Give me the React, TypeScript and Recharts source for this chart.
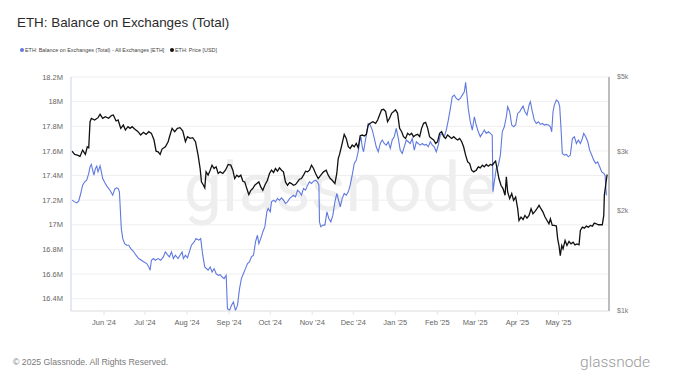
import { LineChart, Line, XAxis, YAxis, CartesianGrid } from 'recharts';

const TITLE = 'ETH: Balance on Exchanges (Total)';
const BALANCE_NAME = 'ETH: Balance on Exchanges (Total) - All Exchanges [ETH]';
const PRICE_NAME = 'ETH: Price [USD]';

const BLUE = '#6079e0';
const BLACK = '#111111';
const FONT = '"Liberation Sans", Arial, sans-serif';

// x = days since the start of the window (early May 2024)
const monthTicks = [22.7, 50.9, 79.8, 108.7, 137.0, 165.9, 194.1, 223.0, 251.9, 278.0, 307.0, 335.2];
const monthLabels = ["Jun '24", "Jul '24", "Aug '24", "Sep '24", "Oct '24", "Nov '24", "Dec '24", "Jan '25", "Feb '25", "Mar '25", "Apr '25", "May '25"];
const balanceTicks = [16.4, 16.6, 16.8, 17, 17.2, 17.4, 17.6, 17.8, 18, 18.2];
const priceTicks = [1000, 2000, 3000, 5000];

// exchange balance, millions of ETH
const balanceDays = [
  0.7, 2.5, 3.9, 5.3, 6.7, 8.0, 9.4, 10.8, 12.2, 13.1, 14.0, 14.9, 15.8, 16.8, 17.7, 18.6, 20.0, 20.9, 21.8, 23.2,
  25.0, 26.8, 28.7, 30.1, 31.4, 32.4, 33.3, 34.6, 35.6, 36.9, 38.3, 39.7, 41.1, 42.9, 44.7, 46.6, 48.4, 50.2, 52.1, 53.5,
  54.4, 55.3, 56.7, 58.0, 59.9, 61.7, 63.5, 64.9, 66.3, 67.7, 69.1, 70.4, 71.8, 73.6, 75.0, 76.4, 77.3, 78.7, 80.1, 81.4,
  82.8, 84.7, 86.0, 87.9, 89.2, 90.6, 92.0, 94.3, 95.7, 97.0, 98.4, 99.8, 101.2, 102.6, 103.9, 105.3, 106.7, 107.6, 109.0, 110.4,
  111.7, 113.1, 114.5, 115.9, 117.2, 118.6, 120.0, 121.4, 122.7, 124.1, 125.5, 126.9, 128.2, 129.2, 130.5, 131.9, 133.3, 134.7, 135.6, 137.0,
  137.9, 139.3, 140.6, 142.0, 143.4, 144.8, 146.1, 147.5, 148.9, 150.3, 151.6, 153.0, 154.4, 155.8, 157.1, 158.5, 159.9, 161.3, 162.7, 164.0,
  165.4, 166.8, 168.2, 169.5, 170.5, 170.9, 171.8, 173.2, 174.6, 176.0, 177.3, 178.7, 180.1, 181.5, 182.8, 185.2, 186.5, 187.9, 189.3, 190.7,
  192.0, 193.4, 194.8, 196.2, 197.5, 198.5, 199.4, 200.3, 201.2, 202.1, 203.1, 204.4, 205.8, 207.2, 208.6, 209.9, 211.3, 212.7, 214.1, 215.4,
  216.8, 218.2, 219.6, 220.9, 222.3, 223.7, 225.1, 226.4, 227.8, 229.2, 230.6, 232.0, 233.3, 234.7, 236.1, 237.5, 238.8, 240.2, 241.6, 243.0,
  244.3, 245.7, 247.1, 248.5, 249.8, 251.2, 252.6, 254.0, 255.4, 256.7, 258.1, 259.5, 260.9, 262.2, 263.6, 265.0, 266.4, 267.7, 269.1, 270.5,
  271.4, 272.3, 273.2, 274.6, 276.0, 277.4, 278.7, 280.1, 281.5, 282.9, 284.2, 285.6, 287.0, 288.4, 289.7, 290.2, 291.1, 292.5, 293.9, 295.3,
  296.6, 298.0, 299.4, 300.3, 301.7, 303.1, 304.4, 305.8, 307.2, 308.6, 309.9, 310.9, 312.2, 313.6, 315.0, 315.9, 317.3, 318.6, 320.0, 321.4,
  322.8, 324.2, 325.5, 326.9, 328.3, 329.7, 330.6, 331.5, 332.4, 333.8, 335.2, 336.1, 337.0, 337.9, 339.3, 340.7, 342.0, 343.4, 344.8, 346.2,
  347.6, 348.9, 350.3, 351.7, 352.6, 354.0, 355.4, 356.7, 358.1, 359.5, 360.9, 362.2, 363.6, 365.0, 366.4, 367.3, 368.2,
];
const balanceValues = [
  17.200, 17.186, 17.178, 17.192, 17.254, 17.322, 17.349, 17.362, 17.417, 17.471, 17.490, 17.444, 17.403, 17.457, 17.476, 17.430, 17.479, 17.430, 17.376, 17.343,
  17.308, 17.281, 17.240, 17.289, 17.300, 17.295, 17.268, 16.969, 16.888, 16.847, 16.834, 16.834, 16.807, 16.785, 16.753, 16.726, 16.712, 16.698, 16.685, 16.658,
  16.631, 16.712, 16.726, 16.712, 16.726, 16.712, 16.739, 16.780, 16.758, 16.739, 16.780, 16.726, 16.753, 16.726, 16.753, 16.780, 16.726, 16.753, 16.731, 16.780,
  16.834, 16.861, 16.888, 16.875, 16.888, 16.753, 16.658, 16.631, 16.658, 16.617, 16.644, 16.604, 16.590, 16.595, 16.576, 16.563, 16.590, 16.319, 16.305, 16.346,
  16.373, 16.305, 16.346, 16.482, 16.563, 16.604, 16.644, 16.685, 16.698, 16.739, 16.753, 16.861, 16.915, 16.847, 16.888, 16.942, 16.983, 17.105, 17.132, 17.105,
  17.186, 17.200, 17.186, 17.213, 17.200, 17.219, 17.200, 17.173, 17.186, 17.213, 17.227, 17.240, 17.227, 17.281, 17.268, 17.240, 17.295, 17.281, 17.322, 17.349,
  17.335, 17.354, 17.362, 17.349, 17.322, 17.024, 16.983, 16.997, 16.997, 17.105, 17.051, 17.024, 17.078, 17.186, 17.254, 17.146, 17.213, 17.254, 17.240, 17.268,
  17.322, 17.403, 17.498, 17.525, 17.593, 17.674, 17.715, 17.633, 17.593, 17.660, 17.728, 17.823, 17.810, 17.769, 17.701, 17.633, 17.593, 17.660, 17.688, 17.660,
  17.647, 17.674, 17.620, 17.688, 17.715, 17.782, 17.701, 17.606, 17.579, 17.633, 17.688, 17.674, 17.660, 17.701, 17.606, 17.674, 17.660, 17.647, 17.660, 17.647,
  17.652, 17.633, 17.674, 17.647, 17.633, 17.593, 17.647, 17.728, 17.742, 17.715, 17.769, 17.850, 17.945, 18.040, 18.053, 18.026, 18.013, 18.026, 18.053, 18.080,
  18.156, 18.053, 17.945, 17.837, 17.769, 17.877, 17.810, 17.755, 17.715, 17.742, 17.769, 17.742, 17.755, 17.742, 17.728, 17.268, 17.349, 17.457, 17.484, 17.566,
  17.755, 17.796, 17.877, 17.959, 17.918, 17.810, 17.796, 17.810, 17.904, 17.918, 17.945, 17.964, 17.918, 17.891, 17.972, 17.999, 17.918, 17.850, 17.823, 17.837,
  17.815, 17.823, 17.810, 17.815, 17.810, 17.796, 17.755, 17.918, 17.972, 18.013, 17.999, 17.959, 17.782, 17.579, 17.566, 17.571, 17.552, 17.566, 17.701, 17.715,
  17.660, 17.688, 17.660, 17.701, 17.742, 17.715, 17.674, 17.606, 17.566, 17.525, 17.498, 17.511, 17.471, 17.430, 17.417, 17.403, 17.240,
];

// ETH price, USD
const priceDays = [
  0.7, 2.5, 4.4, 6.2, 8.0, 9.9, 11.2, 12.2, 13.1, 14.0, 16.3, 18.6, 20.0, 21.8, 23.6, 25.9, 27.8, 29.1, 31.0, 32.4,
  34.2, 36.0, 37.4, 39.2, 40.6, 42.0, 43.8, 46.1, 47.9, 49.8, 51.6, 53.5, 55.3, 57.1, 58.5, 59.9, 61.3, 62.6, 64.9, 66.8,
  68.1, 69.5, 71.3, 73.2, 75.0, 76.9, 78.7, 80.1, 81.9, 83.7, 85.6, 87.4, 88.8, 89.7, 91.1, 92.0, 92.9, 94.3, 95.7, 97.0,
  98.4, 99.8, 101.2, 102.6, 104.4, 106.2, 108.1, 109.9, 111.3, 112.6, 114.0, 115.4, 116.8, 118.2, 119.5, 120.9, 122.3, 123.7, 125.0, 126.4,
  127.8, 129.2, 130.5, 131.9, 133.3, 135.1, 136.5, 137.9, 139.3, 140.6, 142.0, 143.4, 144.8, 146.1, 147.5, 148.9, 150.3, 151.6, 153.0, 154.4,
  155.8, 157.1, 158.5, 159.9, 161.3, 162.7, 164.0, 165.4, 166.8, 168.2, 170.0, 171.8, 173.7, 175.5, 176.9, 178.3, 179.6, 181.5, 182.8, 183.8,
  184.7, 186.5, 187.9, 189.3, 190.7, 192.0, 193.4, 194.8, 196.2, 197.5, 198.9, 200.3, 201.7, 203.1, 204.4, 205.8, 207.6, 209.5, 210.9, 212.2,
  213.6, 215.0, 216.4, 217.7, 219.1, 220.5, 221.9, 223.2, 224.6, 226.0, 227.4, 228.7, 230.1, 231.5, 232.9, 234.2, 235.6, 237.0, 238.4, 239.8,
  241.1, 242.5, 243.9, 245.3, 246.6, 248.0, 249.4, 250.8, 252.1, 253.5, 254.9, 256.3, 257.6, 259.0, 260.4, 261.8, 263.2, 264.5, 265.9, 267.3,
  268.7, 270.0, 271.4, 272.8, 274.2, 275.5, 276.9, 278.7, 280.1, 281.5, 282.9, 284.2, 285.6, 287.0, 288.4, 289.7, 291.1, 292.0, 293.0, 294.3,
  295.7, 297.1, 298.5, 299.4, 300.3, 301.7, 303.1, 304.4, 305.8, 307.2, 308.1, 309.5, 310.9, 312.2, 313.6, 315.0, 316.4, 317.7, 319.1, 320.5,
  321.9, 323.2, 324.6, 326.0, 327.4, 328.7, 329.7, 331.0, 332.4, 333.8, 334.7, 335.6, 336.5, 337.5, 338.4, 339.8, 341.1, 342.5, 343.9, 345.3,
  346.6, 348.0, 349.4, 350.3, 351.7, 353.1, 354.4, 355.8, 357.2, 358.6, 359.9, 361.3, 362.7, 364.1, 365.4, 366.4, 366.8, 367.7, 368.7,
];
const priceValues = [
  3003, 2936, 2922, 2895, 3025, 2936, 3095, 3074, 3678, 3763, 3720, 3780, 3869, 3763, 3807, 3763, 3834, 3851, 3695, 3720,
  3512, 3594, 3472, 3553, 3512, 3553, 3496, 3433, 3355, 3417, 3370, 3433, 3394, 3241, 3003, 2990, 2936, 3046, 3095, 3204,
  3355, 3512, 3433, 3512, 3529, 3449, 3204, 3316, 3278, 3293, 3204, 2922, 2665, 2430, 2375, 2332, 2604, 2545, 2634, 2727,
  2665, 2696, 2575, 2604, 2575, 2634, 2740, 2727, 2634, 2487, 2545, 2516, 2545, 2441, 2430, 2321, 2227, 2294, 2321, 2375,
  2402, 2430, 2348, 2294, 2375, 2458, 2575, 2634, 2592, 2665, 2616, 2677, 2634, 2604, 2430, 2375, 2419, 2402, 2375, 2386,
  2430, 2475, 2487, 2545, 2616, 2604, 2634, 2727, 2665, 2575, 2487, 2545, 2604, 2634, 2545, 2487, 2458, 2402, 2575, 2855,
  2936, 3167, 3370, 3278, 3095, 3060, 3131, 3095, 3167, 3074, 3340, 3355, 3332, 3370, 3594, 3636, 3678, 3636, 3720, 3851,
  3988, 4004, 3941, 3678, 3763, 3895, 3941, 3988, 3895, 3512, 3433, 3316, 3278, 3394, 3355, 3394, 3316, 3355, 3370, 3316,
  3512, 3636, 3661, 3512, 3316, 3278, 3241, 3167, 3204, 3394, 3433, 3316, 3278, 3355, 3316, 3278, 3316, 3278, 3241, 3278,
  3204, 3095, 2922, 2790, 2758, 2634, 2604, 2634, 2696, 2677, 2727, 2696, 2740, 2708, 2740, 2727, 2777, 2803, 2665, 2487,
  2375, 2321, 2216, 2516, 2268, 2166, 2242, 2141, 2191, 2021, 1864, 1908, 1877, 1930, 1895, 1930, 2021, 1952, 1984, 2021,
  2068, 2021, 1975, 1908, 1864, 1822, 1886, 1801, 1801, 1793, 1643, 1569, 1464, 1569, 1533, 1624, 1569, 1613, 1587, 1605,
  1576, 1587, 1576, 1740, 1780, 1768, 1793, 1780, 1801, 1793, 1830, 1822, 1810, 1810, 1810, 1930, 2216, 2375, 2557,
];

const balanceData = balanceDays.map((day, i) => ({ day, balance: balanceValues[i] }));
const priceData = priceDays.map((day, i) => ({ day, price: priceValues[i] }));

const tickStyle = { fontSize: 7.5, fill: '#666', fontFamily: FONT };

export default function App() {
  return (
    <div style={{ position: 'absolute', left: 0, top: 0, width: 680, height: 383, background: '#fff', fontFamily: FONT, overflow: 'hidden' }}>
      {/* title + legend */}
      <div style={{ position: 'absolute', left: 17, top: 15, fontSize: 13.4, color: '#2b2b2b', whiteSpace: 'nowrap' }}>{TITLE}</div>
      <span style={{ position: 'absolute', left: 19.5, top: 47.5, width: 4, height: 4, borderRadius: 2, background: BLUE }} />
      <span style={{ position: 'absolute', left: 25, top: 45.5, fontSize: 5.4, lineHeight: '8px', color: '#444', whiteSpace: 'nowrap' }}>{BALANCE_NAME}</span>
      <span style={{ position: 'absolute', left: 169.5, top: 47.5, width: 4, height: 4, borderRadius: 2, background: BLACK }} />
      <span style={{ position: 'absolute', left: 175, top: 45.5, fontSize: 5.4, lineHeight: '8px', color: '#444', whiteSpace: 'nowrap' }}>{PRICE_NAME}</span>

      {/* watermark */}
      <div style={{ position: 'absolute', left: 0, width: 680, top: 148, textAlign: 'center', fontFamily: 'Roboto, sans-serif', fontSize: 68, color: '#eeeeee', lineHeight: '80px' }}>
        glassnode
      </div>

      <div style={{ position: 'absolute', left: 0, top: 0 }}>
        <LineChart width={680} height={383} margin={{ top: 77, right: 31, bottom: 52, left: 31 }}>
          <CartesianGrid yAxisId="left" vertical={false} stroke="#eeeeee" />
          <XAxis
            dataKey="day"
            type="number"
            domain={[0, 370]}
            allowDataOverflow
            ticks={monthTicks}
            tickFormatter={(v) => monthLabels[monthTicks.indexOf(v)]}
            tick={tickStyle}
            height={20}
            tickSize={4}
            tickMargin={5}
            stroke="#e4e4e4"
            interval={0}
          />
          <YAxis
            yAxisId="left"
            orientation="left"
            width={40}
            domain={[16.3, 18.2]}
            allowDataOverflow
            ticks={balanceTicks}
            interval={0}
            tickFormatter={(v) => `${+v.toFixed(1)}M`}
            tick={tickStyle}
            tickLine={false}
            stroke="#c9d1f3"
          />
          <YAxis
            yAxisId="right"
            orientation="right"
            width={40}
            scale="log"
            domain={[1000, 5000]}
            allowDataOverflow
            ticks={priceTicks}
            interval={0}
            tickFormatter={(v) => `$${v / 1000}k`}
            tick={{ ...tickStyle, fontSize: 7, fill: '#777' }}
            tickLine={false}
            axisLine={{ stroke: '#bdbdbd', strokeWidth: 2 }}
          />
          <Line
            yAxisId="left"
            data={balanceData}
            dataKey="balance"
            type="linear"
            stroke={BLUE}
            strokeWidth={1.1}
            dot={false}
            isAnimationActive={false}
          />
          <Line
            yAxisId="right"
            data={priceData}
            dataKey="price"
            type="linear"
            stroke={BLACK}
            strokeWidth={1.3}
            dot={false}
            isAnimationActive={false}
          />
        </LineChart>
      </div>

      {/* footer */}
      <div style={{ position: 'absolute', left: 13, top: 357, fontSize: 8.7, color: '#7a7a7a', whiteSpace: 'nowrap' }}>
        © 2025 Glassnode. All Rights Reserved.
      </div>
      <div style={{ position: 'absolute', right: 30, top: 353, fontSize: 15.5, color: '#9a9a9a', fontFamily: 'Roboto, sans-serif', fontWeight: 300 }}>
        glassnode
      </div>
    </div>
  );
}
